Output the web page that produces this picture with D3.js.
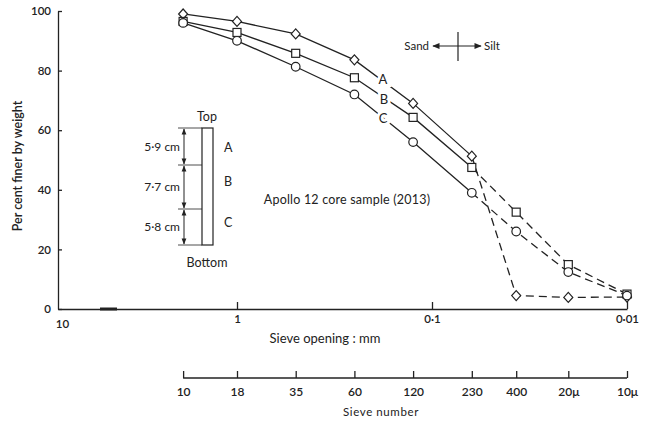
<!DOCTYPE html>
<html>
<head>
<meta charset="utf-8">
<script src="https://cdn.jsdelivr.net/npm/d3@7"></script>
<style>
  body { margin: 0; background: #fff; }
  text { font-family: Lato, "Open Sans", sans-serif; fill: #222; }
</style>
</head>
<body>
<svg id="chart" width="645" height="422"></svg>
<script>
// sieve openings (mm) where each sample was measured
const sieveMM = [2, 1, 0.5, 0.25, 0.125, 0.0625, 0.037, 0.02, 0.01];
const sieveNumbers = ["10", "18", "35", "60", "120", "230", "400", "20\u03bc", "10\u03bc"];
const seriesA = [99, 96.5, 92.3, 83.6, 69, 51.3, 4.5, 3.9, 4];
const seriesB = [96.5, 92.8, 85.8, 77.6, 64.3, 47.5, 32.5, 14.9, 5];
const seriesC = [96, 90, 81.3, 72, 56, 39, 26, 12.4, 4.5];
const openingTicks = [10, 1, 0.1, 0.01];
const openingLabels = ["10", "1", "0\u00b71", "0\u00b701"];
const yTicks = [0, 20, 40, 60, 80, 100];

const svg = d3.select("#chart");
const ink = "#222";

// axis from 10 to 1 is squeezed, so the log scale is piecewise
const x = d3.scaleLog().domain([10, 1, 0.01]).range([58, 237, 627]);
const y = d3.scaleLinear().domain([0, 100]).range([309, 11]);

// y axis
const yAxis = svg.append("g")
  .attr("transform", "translate(58,0)")
  .call(d3.axisLeft(y).tickValues(yTicks).tickSizeInner(-4).tickSizeOuter(0).tickPadding(7));
yAxis.selectAll("text").style("font-size", "11.5px").style("font-weight", 600);

svg.append("text")
  .attr("transform", "translate(22,166) rotate(-90)")
  .attr("text-anchor", "middle")
  .style("font-size", "12.5px")
  .style("font-weight", 600)
  .text("Per cent finer by weight");

// x axis (sieve opening)
const xAxis = svg.append("g")
  .attr("transform", "translate(0,309)")
  .call(d3.axisBottom(x).tickValues(openingTicks)
    .tickFormat((d, i) => openingLabels[i])
    .tickSizeInner(-7).tickSizeOuter(0).tickPadding(6));
xAxis.selectAll("text").style("font-size", "11.5px").style("font-weight", 600);
xAxis.selectAll(".tick").filter(d => d == 10).select("line").remove();
xAxis.selectAll(".tick").filter(d => d == 10).select("text").attr("dx", 4).attr("dy", "1.1em");
xAxis.selectAll("line, path").attr("stroke", ink).attr("stroke-width", 1.3);
yAxis.selectAll("line, path").attr("stroke", ink).attr("stroke-width", 1.3);

// little break mark on the axis
svg.append("line")
  .attr("x1", 100).attr("x2", 117).attr("y1", 309).attr("y2", 309)
  .attr("stroke", ink).attr("stroke-width", 3);

svg.append("text")
  .attr("x", 325).attr("y", 343)
  .attr("text-anchor", "middle")
  .style("font-size", "13px")
  .text("Sieve opening : mm");

// sieve number axis
const sAxis = svg.append("g")
  .attr("transform", "translate(0,378)")
  .call(d3.axisBottom(x).tickValues(sieveMM)
    .tickFormat((d, i) => sieveNumbers[i])
    .tickSizeInner(-7).tickSizeOuter(0).tickPadding(9));
sAxis.select(".domain").remove();
sAxis.append("line")
  .attr("x1", x(sieveMM[0])).attr("x2", x(sieveMM[sieveMM.length - 1]))
  .attr("stroke", ink).attr("stroke-width", 1.3);
sAxis.selectAll("line").attr("stroke", ink).attr("stroke-width", 1.3);
sAxis.selectAll("text").style("font-size", "12px").style("font-weight", 600);

svg.append("text")
  .attr("x", 381).attr("y", 416)
  .attr("text-anchor", "middle")
  .style("font-size", "11.5px")
  .style("letter-spacing", "0.6px")
  .text("Sieve number");

// curves: solid down to 230 mesh, dashed after
const line = d3.line().x(d => x(d[0])).y(d => y(d[1]));
const series = [
  { name: "A", vals: seriesA, mark: "diamond" },
  { name: "B", vals: seriesB, mark: "square" },
  { name: "C", vals: seriesC, mark: "circle" },
];

series.forEach(s => {
  const pts = sieveMM.map((m, i) => [m, s.vals[i]]);
  svg.append("path")
    .attr("d", line(pts.slice(0, 6)))
    .attr("fill", "none").attr("stroke", ink).attr("stroke-width", 1.3);
  svg.append("path")
    .attr("d", line(pts.slice(5)))
    .attr("fill", "none").attr("stroke", ink).attr("stroke-width", 1.3)
    .attr("stroke-dasharray", "8,5");
});

series.forEach(s => {
  const pts = sieveMM.map((m, i) => [m, s.vals[i]]);
  const g = svg.append("g");
  pts.forEach(p => {
    const cx = x(p[0]), cy = y(p[1]);
    if (s.mark == "circle") {
      g.append("circle").attr("cx", cx).attr("cy", cy).attr("r", 4.3);
    } else if (s.mark == "square") {
      g.append("rect").attr("x", cx - 4).attr("y", cy - 4).attr("width", 8).attr("height", 8);
    } else {
      g.append("path")
        .attr("d", `M${cx},${cy - 5}L${cx + 4.5},${cy}L${cx},${cy + 5}L${cx - 4.5},${cy}Z`);
    }
  });
  g.selectAll("*").attr("fill", "#fff").attr("stroke", ink).attr("stroke-width", 1.2);
});

// curve labels, with a white halo that breaks the line
const curveLabels = [["A", 383, 84], ["B", 384, 104], ["C", 383, 123]];
svg.selectAll(".clab").data(curveLabels).enter().append("text")
  .attr("x", d => d[1]).attr("y", d => d[2])
  .attr("text-anchor", "middle")
  .style("font-size", "13px")
  .style("stroke", "#fff").style("stroke-width", 6).style("paint-order", "stroke")
  .text(d => d[0]);

// sand / silt marker
svg.append("defs").append("marker")
  .attr("id", "ah").attr("viewBox", "0 0 10 10").attr("refX", 9).attr("refY", 5)
  .attr("markerWidth", 7).attr("markerHeight", 6).attr("orient", "auto-start-reverse")
  .append("path").attr("d", "M0,1L10,5L0,9Z").attr("fill", ink);
svg.append("line")
  .attr("x1", 433).attr("x2", 481).attr("y1", 46).attr("y2", 46)
  .attr("stroke", ink).attr("stroke-width", 1.2)
  .attr("marker-start", "url(#ah)").attr("marker-end", "url(#ah)");
svg.append("line")
  .attr("x1", 458).attr("x2", 458).attr("y1", 32).attr("y2", 61)
  .attr("stroke", ink).attr("stroke-width", 1.2);
svg.append("text").attr("x", 429).attr("y", 50).attr("text-anchor", "end")
  .style("font-size", "11.5px").text("Sand");
svg.append("text").attr("x", 484).attr("y", 50)
  .style("font-size", "11.5px").text("Silt");

svg.append("text")
  .attr("x", 347).attr("y", 204)
  .attr("text-anchor", "middle")
  .style("font-size", "12.5px")
  .style("letter-spacing", "0.2px")
  .text("Apollo 12 core sample (2013)");

// core diagram
const core = svg.append("g");
core.append("rect").attr("x", 202).attr("y", 128).attr("width", 11).attr("height", 117)
  .attr("fill", "none").attr("stroke", ink).attr("stroke-width", 1.2);
core.append("text").attr("x", 207).attr("y", 121).attr("text-anchor", "middle")
  .style("font-size", "12.5px").text("Top");
core.append("text").attr("x", 207).attr("y", 267).attr("text-anchor", "middle")
  .style("font-size", "12.5px").text("Bottom");
[["A", 152], ["B", 186], ["C", 227]].forEach(d => {
  core.append("text").attr("x", 224).attr("y", d[1]).style("font-size", "12.5px").text(d[0]);
});
const dims = [[128, 165, "5\u00b79 cm"], [165, 209, "7\u00b77 cm"], [209, 245, "5\u00b78 cm"]];
[128, 165, 209, 245].forEach(v => {
  core.append("line").attr("x1", 178).attr("x2", 202).attr("y1", v).attr("y2", v)
    .attr("stroke", ink).attr("stroke-width", 0.8);
});
dims.forEach(d => {
  core.append("line").attr("x1", 184).attr("x2", 184).attr("y1", d[0] + 1).attr("y2", d[1] - 1)
    .attr("stroke", ink).attr("stroke-width", 1)
    .attr("marker-start", "url(#ah)").attr("marker-end", "url(#ah)");
  core.append("text").attr("x", 180).attr("y", (d[0] + d[1]) / 2 + 4).attr("text-anchor", "end")
    .style("font-size", "12px").text(d[2]);
});
</script>
</body>
</html>
